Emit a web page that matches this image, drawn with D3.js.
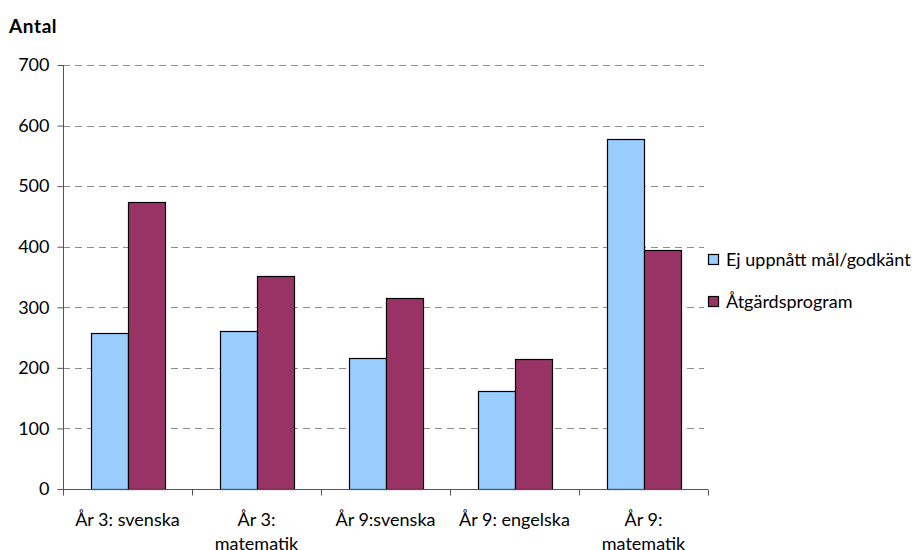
<!DOCTYPE html>
<html>
<head>
<meta charset="utf-8">
<script src="https://cdn.jsdelivr.net/npm/d3@7"></script>
<style>
  html, body { margin: 0; padding: 0; background: #fff; }
  svg text { font-family: Lato, "Open Sans", sans-serif; fill: #000; }
</style>
</head>
<body>
<svg id="chart" width="922" height="550"></svg>
<script>
const categories = ["År 3: svenska", "År 3:\nmatematik", "År 9:svenska", "År 9: engelska", "År 9:\nmatematik"];
const seriesNames = ["Ej uppnått mål/godkänt", "Åtgärdsprogram"];
const ejUppnatt = [258, 261, 217, 162, 578];
const atgardsprogram = [473, 351, 316, 215, 395];
const yTicks = [0, 100, 200, 300, 400, 500, 600, 700];
const colors = ["#99CCFF", "#993366"];

(function() {
const svg = d3.select("#chart");
const pLeft = 63, pRight = 708, pTop = 65, pBottom = 489;

const x = d3.scaleBand().domain(categories).range([pLeft, pRight])
  .paddingInner(1.5 / 3.5).paddingOuter(0.75 / 3.5);
const xInner = d3.scaleBand().domain([0, 1]).range([0, x.bandwidth()]);
const y = d3.scaleLinear().domain([0, 700]).range([pBottom, pTop]);

// gridlines
svg.append("g").selectAll("line").data(yTicks.filter(d => d > 0)).join("line")
  .attr("x1", pLeft).attr("x2", 704)
  .attr("y1", d => Math.round(y(d)) + 0.5).attr("y2", d => Math.round(y(d)) + 0.5)
  .attr("stroke", "#8c8c8c").attr("stroke-width", 1)
  .attr("stroke-dasharray", "7,5");

// bars
const series = [ejUppnatt, atgardsprogram];
const g = svg.append("g");
categories.forEach((c, i) => {
  series.forEach((s, j) => {
    g.append("rect")
      .attr("x", Math.round(x(c) + xInner(j)) + 0.5)
      .attr("y", Math.round(y(s[i])) + 0.5)
      .attr("width", Math.round(xInner.bandwidth()))
      .attr("height", Math.round(y(0)) - Math.round(y(s[i])))
      .attr("fill", colors[j])
      .attr("stroke", "#000").attr("stroke-width", 1.2);
  });
});

// y axis
const yAxis = d3.axisLeft(y).tickValues(yTicks).tickSize(6).tickPadding(8).tickFormat(d3.format("d"));
const ya = svg.append("g").attr("transform", `translate(${pLeft + 0.5},0)`).call(yAxis);
ya.select(".domain").attr("stroke", "#555").attr("d", `M0,${pTop}V${pBottom}`);
ya.selectAll(".tick line").attr("stroke", "#555");
ya.selectAll(".tick text").attr("font-size", 18).attr("font-family", "Lato");

// x axis
const xa = svg.append("g").attr("transform", `translate(0,${pBottom + 0.5})`);
xa.append("line").attr("x1", pLeft).attr("x2", pRight).attr("stroke", "#555");
const bounds = d3.range(categories.length + 1).map(i => pLeft + i * x.step());
xa.selectAll("line.tk").data(bounds).join("line").attr("class", "tk")
  .attr("x1", d => Math.round(d) + 0.5).attr("x2", d => Math.round(d) + 0.5)
  .attr("y1", 0).attr("y2", 6).attr("stroke", "#555");
xa.selectAll("text.lbl").data(categories).join("text").attr("class", "lbl")
  .attr("text-anchor", "middle").attr("font-size", 18)
  .attr("x", d => x(d) + x.bandwidth() / 2)
  .attr("y", 36)
  .each(function(d) {
    const lines = d.split("\n");
    d3.select(this).selectAll("tspan").data(lines).join("tspan")
      .attr("x", x(d) + x.bandwidth() / 2)
      .attr("dy", (l, k) => k === 0 ? 0 : 24)
      .text(l => l);
  });

// title
svg.append("text").attr("x", 9).attr("y", 33).attr("font-size", 19)
  .attr("font-weight", "bold").attr("letter-spacing", 0.6).text("Antal");

// legend
const legendY = [260, 302];
const lg = svg.append("g");
seriesNames.forEach((n, j) => {
  lg.append("rect").attr("x", 708.5).attr("y", legendY[j] - 5.5)
    .attr("width", 10).attr("height", 10)
    .attr("fill", colors[j]).attr("stroke", "#000").attr("stroke-width", 1.2);
  lg.append("text").attr("x", 726).attr("y", legendY[j]).attr("dy", "0.35em")
    .attr("font-size", 18).text(n);
});
})();
</script>
</body>
</html>
